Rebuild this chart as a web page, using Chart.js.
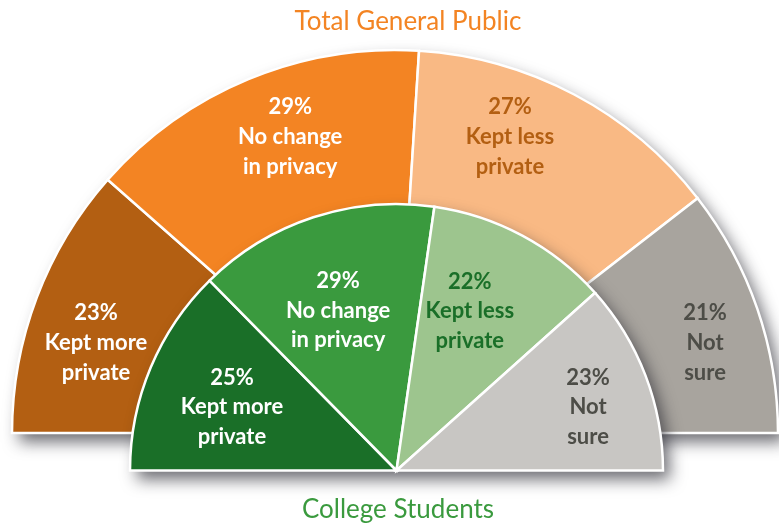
<!DOCTYPE html>
<html>
<head>
<meta charset="utf-8">
<script src="https://cdn.jsdelivr.net/npm/chart.js@4.4.1/dist/chart.umd.min.js"></script>
<style>
  html, body { margin: 0; padding: 0; background: #fff; }
  #wrap { position: relative; width: 779px; height: 527px; overflow: hidden; }
  #wrap canvas { position: absolute; left: 0; top: 0; }
  .ttl { position: absolute; transform: translateX(-50%); white-space: nowrap;
         font-family: Lato, "Noto Sans", sans-serif; font-size: 26px; line-height: 40px; }
</style>
</head>
<body>
<div id="wrap">
  <canvas id="outer" width="779" height="527"></canvas>
  <canvas id="inner" width="779" height="527"></canvas>
  <div class="ttl" style="left:408px; top:0px; color:#f38423;">Total General Public</div>
  <div class="ttl" style="left:398px; top:488px; color:#3a9a3e;">College Students</div>
</div>
<script>
// categories, split in the lines shown inside the slices
const categories = [
    ['Kept more', 'private'],
    ['No change', 'in privacy'],
    ['Kept less', 'private'],
    ['Not', 'sure']
];
const publicValues = [23, 29, 27, 21];
const studentValues = [25, 29, 22, 23];

const publicColors = ['#b35f12', '#f38423', '#f9b984', '#a8a49e'];
const publicText = ['#ffffff', '#ffffff', '#b35f12', '#4d4d47'];
const studentColors = ['#1a6f28', '#3a9a3e', '#9dc58e', '#c8c6c3'];
const studentText = ['#ffffff', '#ffffff', '#1a6f28', '#4d4d47'];

// shadow behind the whole half disc
const halfShadow = {
    id: 'halfShadow',
    beforeDatasetsDraw(chart) {
        const arc = chart.getDatasetMeta(0).data[0];
        if (!arc) return;
        const ctx = chart.ctx;
        ctx.save();
        ctx.shadowColor = 'rgba(30,30,40,0.65)';
        ctx.shadowBlur = 16;
        ctx.shadowOffsetX = 7;
        ctx.shadowOffsetY = 9;
        ctx.fillStyle = '#fff';
        ctx.beginPath();
        ctx.arc(arc.x, arc.y, arc.outerRadius, Math.PI, 2 * Math.PI);
        ctx.closePath();
        ctx.fill();
        ctx.restore();
    }
};

// percent + category text inside each slice (hand nudged like the original)
const sliceText = {
    id: 'sliceText',
    afterDatasetsDraw(chart, args, opts) {
        const ctx = chart.ctx;
        const ds = chart.data.datasets[0];
        chart.getDatasetMeta(0).data.forEach((arc, i) => {
            const mid = (arc.startAngle + arc.endAngle) / 2 + opts.nudge[i] * Math.PI / 180;
            const r = arc.outerRadius * opts.factor[i];
            const x = arc.x + Math.cos(mid) * r;
            const y = arc.y + Math.sin(mid) * r;
            const lines = [ds.data[i] + '%'].concat(categories[i]);
            ctx.save();
            ctx.font = 'bold 22px Lato, "Noto Sans", sans-serif';
            ctx.textAlign = 'center';
            ctx.textBaseline = 'middle';
            ctx.fillStyle = opts.colors[i];
            lines.forEach((t, k) => {
                ctx.fillText(t, x, y + (k - (lines.length - 1) / 2) * opts.lineHeight);
            });
            ctx.restore();
        });
    }
};

function halfPie(id, values, colors, textColors, radius, padding, label) {
    return new Chart(document.getElementById(id), {
        type: 'pie',
        data: {
            labels: categories.map(c => c.join(' ')),
            datasets: [{
                data: values,
                backgroundColor: colors,
                borderColor: '#ffffff',
                borderWidth: 2.5,
                borderJoinStyle: 'miter'
            }]
        },
        options: {
            responsive: false,
            animation: false,
            rotation: -90,
            circumference: 180,
            radius: radius,
            layout: { padding: padding },
            plugins: {
                legend: { display: false },
                tooltip: { enabled: false },
                sliceText: Object.assign({ colors: textColors }, label)
            }
        },
        plugins: [halfShadow, sliceText]
    });
}

halfPie('outer', publicValues, publicColors, publicText, 383,
    { left: 11, right: 0, top: 0, bottom: 44 },
    { factor: [0.815, 0.82, 0.83, 0.843], nudge: [-4, 3, -6.7, 2.7], lineHeight: 30 });
halfPie('inner', studentValues, studentColors, studentText, 266.5,
    { left: 14, right: 0, top: 147.5, bottom: 0 },
    { factor: [0.662, 0.638, 0.659, 0.757], nudge: [-1.6, -1.9, -3.5, 2.6], lineHeight: 29.5 });
</script>
</body>
</html>
